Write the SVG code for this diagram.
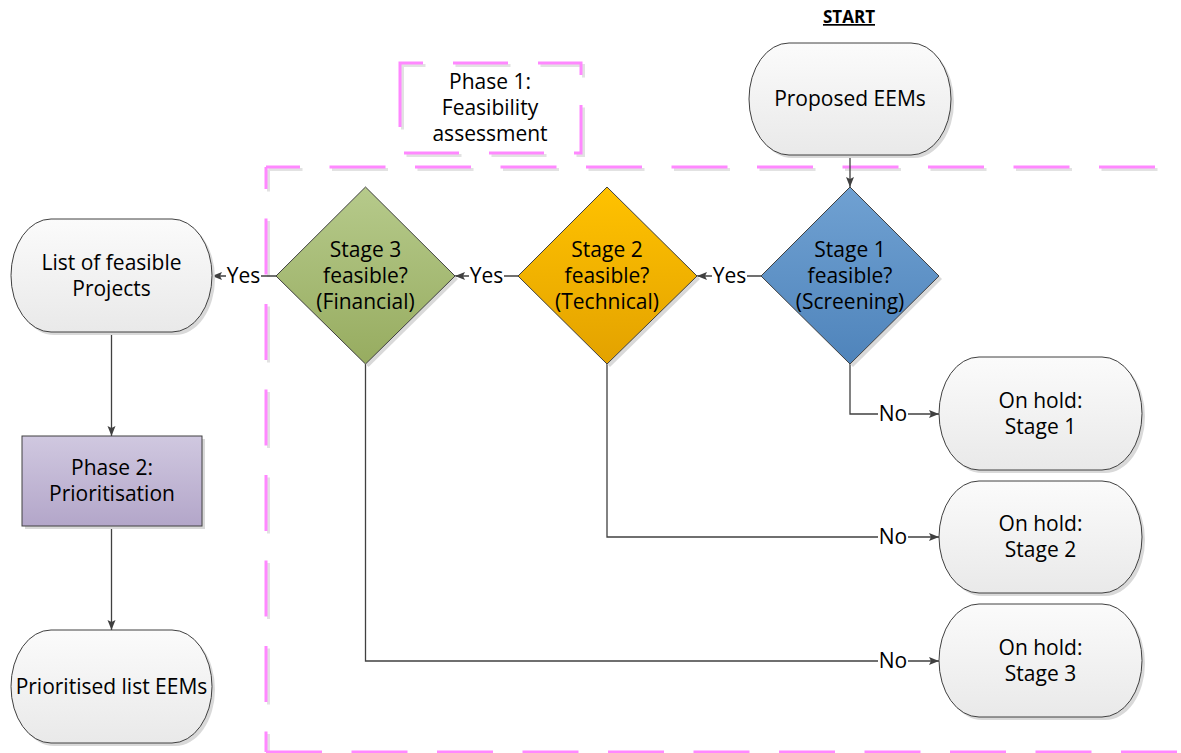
<svg xmlns="http://www.w3.org/2000/svg" width="1181" height="753" viewBox="0 0 1181 753">
  <defs>
    <linearGradient id="gTerm" x1="0" y1="0" x2="0" y2="1">
      <stop offset="0" stop-color="#fbfbfb"/>
      <stop offset="1" stop-color="#e9e9e9"/>
    </linearGradient>
    <linearGradient id="gBlue" x1="0" y1="0" x2="0" y2="1">
      <stop offset="0" stop-color="#70a1d2"/>
      <stop offset="1" stop-color="#4f84bb"/>
    </linearGradient>
    <linearGradient id="gGold" x1="0" y1="0" x2="0" y2="1">
      <stop offset="0" stop-color="#ffc200"/>
      <stop offset="1" stop-color="#e3a200"/>
    </linearGradient>
    <linearGradient id="gGreen" x1="0" y1="0" x2="0" y2="1">
      <stop offset="0" stop-color="#b6ca8b"/>
      <stop offset="1" stop-color="#97ac60"/>
    </linearGradient>
    <linearGradient id="gPurple" x1="0" y1="0" x2="0" y2="1">
      <stop offset="0" stop-color="#d0c8e0"/>
      <stop offset="1" stop-color="#b3a6c9"/>
    </linearGradient>
    <marker id="arrow" viewBox="0 0 10 10" refX="10" refY="5" markerWidth="10" markerHeight="10" markerUnits="userSpaceOnUse" orient="auto">
      <path d="M0,1 L10,5 L0,9 L2,5 Z" fill="#404040"/>
    </marker>
  </defs>
  <style>
    text { font-family: "Open Sans", "Noto Sans", "DejaVu Sans", sans-serif; font-size: 21px; fill: #000; text-anchor: middle; }
    .shape { stroke: #404040; stroke-width: 1; }
    .shadow { fill: #d9d9d9; stroke: none; }
    .wire { fill: none; stroke: #404040; stroke-width: 1.3; }
    .lbl { fill: #ffffff; }
    .zone { fill: none; stroke: #ff88ff; stroke-width: 3; stroke-dasharray: 56 29.5; }
    .zoneShadow { fill: none; stroke: #e2e2e2; stroke-width: 3; stroke-dasharray: 56 29.5; }
    .title { font-size: 17px; font-weight: bold; text-decoration: underline; }
  </style>

  <!-- phase 1 boundary (dashed, with soft shadow) -->
  <g id="phase1-zone">
    <path class="zoneShadow" d="M268.5 169.5 H1190" stroke-dashoffset="22"/>
    <path class="zoneShadow" d="M268.5 169.5 V760" stroke-dashoffset="34"/>
    <path class="zone" d="M266 167 H1190" stroke-dashoffset="22"/>
    <path class="zone" d="M266 167 V752" stroke-dashoffset="34"/>
    <path class="zone" d="M266 752 H1190"/>
  </g>

  <g id="phase1-label">
    <path d="M402.5 97.5 V65.5 H583.5 V155.5 H402.5 Z" fill="none" stroke="#e2e2e2" stroke-width="3" stroke-dasharray="55 30"/>
    <path d="M400 95 V63 H581 V153 H400 Z" fill="none" stroke="#ff88ff" stroke-width="3" stroke-dasharray="55 30"/>
    <text x="490" y="89">Phase 1:</text>
    <text x="490" y="115">Feasibility</text>
    <text x="490" y="141">assessment</text>
  </g>

  <text class="title" x="849" y="23">START</text>

  <!-- connectors -->
  <g id="connectors">
    <path class="wire" d="M850 155 V187" marker-end="url(#arrow)"/>
    <path class="wire" d="M761 276 H697" marker-end="url(#arrow)"/>
    <path class="wire" d="M518 276 H455" marker-end="url(#arrow)"/>
    <path class="wire" d="M276 276 H212" marker-end="url(#arrow)"/>
    <path class="wire" d="M850 364 V414 H939" marker-end="url(#arrow)"/>
    <path class="wire" d="M607 364 V537 H939" marker-end="url(#arrow)"/>
    <path class="wire" d="M365.5 364 V661 H939" marker-end="url(#arrow)"/>
    <path class="wire" d="M111.5 332 V436" marker-end="url(#arrow)"/>
    <path class="wire" d="M111.5 526 V630" marker-end="url(#arrow)"/>
    <!-- connector labels -->
    <rect class="lbl" x="712" y="265" width="35" height="22"/>
    <text x="729.5" y="283">Yes</text>
    <rect class="lbl" x="469" y="265" width="35" height="22"/>
    <text x="486.5" y="283">Yes</text>
    <rect class="lbl" x="226" y="265" width="35" height="22"/>
    <text x="243.5" y="283">Yes</text>
    <rect class="lbl" x="878" y="403" width="30" height="22"/>
    <text x="893" y="421">No</text>
    <rect class="lbl" x="878" y="526" width="30" height="22"/>
    <text x="893" y="544">No</text>
    <rect class="lbl" x="878" y="650" width="30" height="22"/>
    <text x="893" y="668">No</text>
  </g>

  <g id="proposed-eems">
    <rect class="shadow" x="752" y="46" width="202" height="112" rx="40" ry="56"/>
    <rect class="shape" x="749" y="43" width="202" height="112" rx="40" ry="56" fill="url(#gTerm)"/>
    <text x="850" y="106">Proposed EEMs</text>
  </g>

  <g id="stage1">
    <path class="shadow" d="M853 190 L942 279 L853 367 L764 279 Z"/>
    <path class="shape" d="M850 187 L939 276 L850 364 L761 276 Z" fill="url(#gBlue)"/>
    <text x="850" y="257">Stage 1</text>
    <text x="850" y="283">feasible?</text>
    <text x="850" y="309">(Screening)</text>
  </g>

  <g id="stage2">
    <path class="shadow" d="M610 190 L700 279 L610 367 L521 279 Z"/>
    <path class="shape" d="M607 187 L697 276 L607 364 L518 276 Z" fill="url(#gGold)"/>
    <text x="607" y="257">Stage 2</text>
    <text x="607" y="283">feasible?</text>
    <text x="607" y="309">(Technical)</text>
  </g>

  <g id="stage3">
    <path class="shadow" d="M368.5 190 L458 279 L368.5 367 L279 279 Z"/>
    <path class="shape" d="M365.5 187 L455 276 L365.5 364 L276 276 Z" fill="url(#gGreen)"/>
    <text x="365.5" y="257">Stage 3</text>
    <text x="365.5" y="283">feasible?</text>
    <text x="365.5" y="309">(Financial)</text>
  </g>

  <g id="feasible-list">
    <rect class="shadow" x="14" y="222" width="201" height="113" rx="40" ry="56.5"/>
    <rect class="shape" x="11" y="219" width="201" height="113" rx="40" ry="56.5" fill="url(#gTerm)"/>
    <text x="111.5" y="270">List of feasible</text>
    <text x="111.5" y="296">Projects</text>
  </g>

  <g id="phase2">
    <rect class="shadow" x="25" y="439" width="180" height="90"/>
    <rect class="shape" x="22" y="436" width="180" height="90" fill="url(#gPurple)"/>
    <text x="112" y="475">Phase 2:</text>
    <text x="112" y="501">Prioritisation</text>
  </g>

  <g id="prioritised-list">
    <rect class="shadow" x="14" y="633" width="201" height="113" rx="40" ry="56.5"/>
    <rect class="shape" x="11" y="630" width="201" height="113" rx="40" ry="56.5" fill="url(#gTerm)"/>
    <text x="111.5" y="694">Prioritised list EEMs</text>
  </g>

  <g id="hold-stage1">
    <rect class="shadow" x="942" y="360" width="203" height="113" rx="40" ry="56.5"/>
    <rect class="shape" x="939" y="357" width="203" height="113" rx="40" ry="56.5" fill="url(#gTerm)"/>
    <text x="1040.5" y="408">On hold:</text>
    <text x="1040.5" y="434">Stage 1</text>
  </g>

  <g id="hold-stage2">
    <rect class="shadow" x="942" y="484" width="203" height="112" rx="40" ry="56"/>
    <rect class="shape" x="939" y="481" width="203" height="112" rx="40" ry="56" fill="url(#gTerm)"/>
    <text x="1040.5" y="531">On hold:</text>
    <text x="1040.5" y="557">Stage 2</text>
  </g>

  <g id="hold-stage3">
    <rect class="shadow" x="942" y="607" width="203" height="113" rx="40" ry="56.5"/>
    <rect class="shape" x="939" y="604" width="203" height="113" rx="40" ry="56.5" fill="url(#gTerm)"/>
    <text x="1040.5" y="655">On hold:</text>
    <text x="1040.5" y="681">Stage 3</text>
  </g>
</svg>
